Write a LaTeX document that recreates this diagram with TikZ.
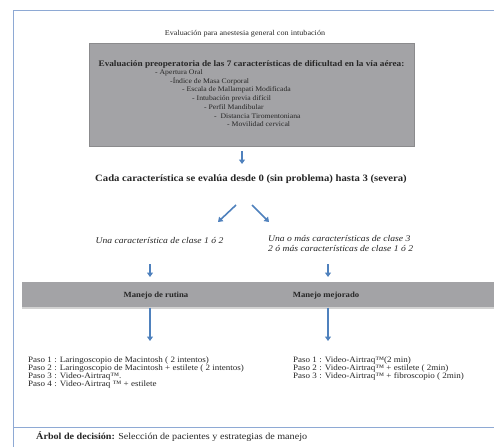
\documentclass[tikz,border=0pt]{standalone}
\usepackage{fontspec}
\setmainfont[FakeStretch=1.1]{Liberation Serif}
\usetikzlibrary{arrows.meta,shadows}
\definecolor{framecol}{HTML}{8EA9D4}
\definecolor{arrcol}{HTML}{4F81BD}
\definecolor{boxgray}{HTML}{A3A3A6}
\definecolor{txt}{HTML}{262626}
\tikzset{
  arr/.style={draw=arrcol, line width=1.6pt, -{Triangle[width=6pt,length=4.5pt]}},
  graybox/.style={fill=boxgray, draw=boxgray!85!black, line width=0.3pt,
    drop shadow={shadow xshift=0.8pt, shadow yshift=-1.2pt, opacity=0.35}},
  lbl/.style={inner sep=0pt, text=txt},
  item/.style={lbl, anchor=west, font=\fontsize{7}{8}\selectfont},
  stepl/.style={lbl, anchor=west, align=left, font=\fontsize{8.2}{7.9}\selectfont},
}
\begin{document}
\begin{tikzpicture}[x=1pt,y=-1pt]
\useasboundingbox (0,0) rectangle (494,447);
\fill[white] (0,0) rectangle (494,447);
% frame
\draw[framecol, line width=0.8pt] (494,10) -- (13,10) -- (13,447);
\draw[framecol, line width=0.8pt] (13,427) -- (494,427);

\node[lbl, font=\fontsize{7.4}{8}\selectfont] (title) at (245,34) {Evaluación para anestesia general con intubación};

\node[graybox, minimum width=325pt, minimum height=103pt, inner sep=0pt] (box) at (251.5,94.5) {};
\node[lbl, font=\bfseries\fontsize{8.4}{9}\selectfont] (head) at (251.5,64) {Evaluación preoperatoria de las 7 características de dificultad en la vía aérea:};
\node[item] (i1) at (155,73) {- Apertura Oral};
\node[item] (i2) at (170,81.5) {-Índice de Masa Corporal};
\node[item] (i3) at (182,90) {- Escala de Mallampati Modificada};
\node[item] (i4) at (192,98.5) {- Intubación previa difícil};
\node[item] (i5) at (204,107) {- Perfil Mandibular};
\node[item] (i6) at (214,116) {-\ \ Distancia Tiromentoniana};
\node[item] (i7) at (227,124.5) {- Movilidad cervical};

\node[lbl, font=\bfseries\fontsize{9.7}{10}\selectfont] (cada) at (251,179) {Cada característica se evalúa desde 0 (sin problema) hasta 3 (severa)};

\node[lbl, font=\itshape\fontsize{8.75}{9}\selectfont] (c1) at (159.5,240) {Una característica de clase 1 ó 2};
\node[lbl, anchor=north west, align=left, font=\itshape\fontsize{8.75}{10.2}\selectfont] (c2) at (268,235.5) {Una o más características de clase 3\\2 ó más características de clase 1 ó 2};

\node[fill=boxgray, minimum width=472pt, minimum height=25pt, inner sep=0pt,
  drop shadow={shadow xshift=0pt, shadow yshift=-1.5pt, opacity=0.35}] (band) at (258,294.5) {};
\node[lbl, font=\bfseries\fontsize{7.9}{9}\selectfont] (rut) at (156,296) {Manejo de rutina};
\node[lbl, font=\bfseries\fontsize{7.9}{9}\selectfont] (mej) at (326,296) {Manejo mejorado};

\node[stepl, anchor=north west] (sl) at (28,357) {Paso 1 : Laringoscopio de Macintosh ( 2 intentos)\\Paso 2 : Laringoscopio de Macintosh + estilete ( 2 intentos)\\Paso 3 : Video-Airtraq™.\\Paso 4 : Video-Airtraq ™ + estilete};
\node[stepl, anchor=north west] (sr) at (293,357) {Paso 1 : Video-Airtraq™(2 min)\\Paso 2 : Video-Airtraq™ + estilete ( 2min)\\Paso 3 : Video-Airtraq™ + fibroscopio ( 2min)};

\node[lbl, anchor=west, font=\fontsize{9.2}{10}\selectfont] (foot) at (36,437) {\textbf{Árbol de decisión:} Selección de pacientes y estrategias de manejo};

% arrows
\coordinate (a0s) at (242,151);
\coordinate (a0e) at (242,164);
\draw[arr] (a0s) -- (a0e);
\coordinate (dls) at (236,205);
\coordinate (dle) at (218,222);
\coordinate (drs) at (252,205);
\coordinate (dre) at (269,222);
\draw[arr] (dls) -- (dle);
\draw[arr] (drs) -- (dre);
\coordinate (l1s) at (150,264);
\coordinate (l1e) at (150,277);
\coordinate (r1s) at (328,264);
\coordinate (r1e) at (328,277);
\draw[arr] (l1s) -- (l1e);
\draw[arr] (r1s) -- (r1e);
\coordinate (l2s) at (150,307.5);
\coordinate (l2e) at (150,341);
\coordinate (r2s) at (328,307.5);
\coordinate (r2e) at (328,341);
\draw[arr] (l2s) -- (l2e);
\draw[arr] (r2s) -- (r2e);
\end{tikzpicture}
\end{document}
